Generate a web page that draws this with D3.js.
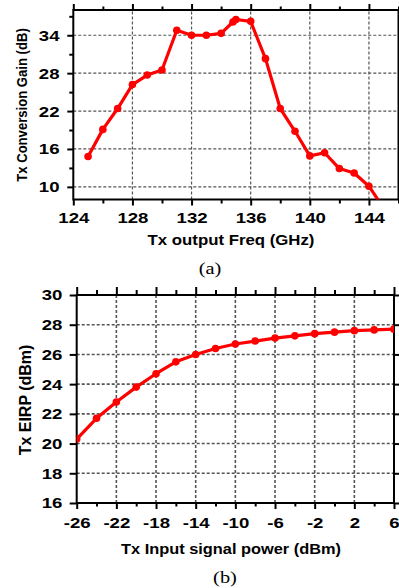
<!DOCTYPE html>
<html>
<head>
<meta charset="utf-8">
<script src="https://cdn.jsdelivr.net/npm/d3@7"></script>
<style>
  html, body { margin: 0; padding: 0; background: #fff; }
  svg { display: block; }
  .tick text { font-family: "Liberation Sans", Arial, sans-serif; font-weight: bold; }
</style>
</head>
<body>
<svg id="chart" width="399" height="588"></svg>
<script>
// ---------- Data (a) ----------
const freqA = [125, 126, 127, 128, 129, 130, 131, 132, 133, 134, 134.8, 135, 136, 137, 138, 139, 140, 141, 142, 143, 144, 145];
const gainA = [14.8, 19.1, 22.4, 26.2, 27.7, 28.5, 34.8, 34.0, 34.0, 34.3, 36.1, 36.5, 36.2, 30.3, 22.4, 18.8, 14.9, 15.4, 12.9, 12.2, 10.1, 6.6];
const xTicksA = [124, 128, 132, 136, 140, 144];
const xMinorA = [126, 130, 134, 138, 142, 146];
const yTicksA = [10, 16, 22, 28, 34];
const yMinorA = [13, 19, 25, 31, 37];

// ---------- Data (b) ----------
const powerB = [-26, -24, -22, -20, -18, -16, -14, -12, -10, -8, -6, -4, -2, 0, 2, 4, 6];
const eirpB = [20.3, 21.7, 22.8, 23.8, 24.7, 25.5, 26.0, 26.4, 26.7, 26.9, 27.1, 27.25, 27.4, 27.5, 27.6, 27.65, 27.7];
const xTicksB = [-26, -22, -18, -14, -10, -6, -2, 2, 6];
const xMinorB = [-24, -20, -16, -12, -8, -4, 0, 4];
const yTicksB = [16, 18, 20, 22, 24, 26, 28, 30];

const svg = d3.select("#chart");
const RED = "#ff0000";
const GRID = "#555";
const STRETCH = 1.2;
const fmt = d => String(d); // plain hyphen-minus like the reference

function panel(opts) {
  const { x, y, xTicks, xMinor, yTicks, yMinor, xs, ys, id,
          majLenX, minLenX, majLenXTop, minLenXTop, majLenY, minLenY, gridW, fontSize } = opts;
  const g = svg.append("g");
  const [x0, x1] = x.range();
  const [y0, y1] = y.range();

  svg.append("clipPath").attr("id", id).append("rect")
    .attr("x", x0).attr("y", y1).attr("width", x1 - x0).attr("height", y0 - y1);

  // grid
  g.append("g").selectAll("line").data(xTicks.filter(v => x(v) > x0 + 1 && x(v) < x1 - 1)).join("line")
    .attr("x1", d => x(d)).attr("x2", d => x(d)).attr("y1", y0).attr("y2", y1)
    .attr("stroke", GRID).attr("stroke-width", gridW).attr("stroke-dasharray", "3,2");
  g.append("g").selectAll("line").data(yTicks.filter(v => y(v) < y0 - 1 && y(v) > y1 + 1)).join("line")
    .attr("x1", x0).attr("x2", x1).attr("y1", d => y(d)).attr("y2", d => y(d))
    .attr("stroke", GRID).attr("stroke-width", gridW).attr("stroke-dasharray", "3,2");

  const styleTicks = sel => { sel.select(".domain").remove(); sel.selectAll(".tick line").attr("stroke", "#000").attr("stroke-width", 2); };

  // bottom
  const bottom = g.append("g").attr("transform", `translate(0,${y0})`)
    .call(d3.axisBottom(x).tickValues(xTicks).tickSize(majLenX).tickPadding(opts.xPad).tickFormat(fmt));
  styleTicks(bottom);
  bottom.selectAll(".tick text").attr("font-size", fontSize).attr("fill", "#000")
    .attr("transform", `scale(${STRETCH},1)`);
  styleTicks(g.append("g").attr("transform", `translate(0,${y0})`)
    .call(d3.axisBottom(x).tickValues(xMinor.filter(v => v <= x.domain()[1])).tickSize(minLenX).tickFormat("")));

  // top
  styleTicks(g.append("g").attr("transform", `translate(0,${y1})`)
    .call(d3.axisTop(x).tickValues(xTicks).tickSize(majLenXTop).tickFormat("")));
  styleTicks(g.append("g").attr("transform", `translate(0,${y1})`)
    .call(d3.axisTop(x).tickValues(xMinor.filter(v => v <= x.domain()[1])).tickSize(minLenXTop).tickFormat("")));

  // left
  const left = g.append("g").attr("transform", `translate(${x0},0)`)
    .call(d3.axisLeft(y).tickValues(yTicks).tickSize(majLenY).tickPadding(opts.yPad).tickFormat(fmt));
  styleTicks(left);
  left.selectAll(".tick text").attr("font-size", fontSize).attr("fill", "#000")
    .attr("transform", `scale(${STRETCH},1)`);
  if (yMinor) {
    styleTicks(g.append("g").attr("transform", `translate(${x0},0)`)
      .call(d3.axisLeft(y).tickValues(yMinor).tickSize(minLenY).tickFormat("")));
  }
  // right
  styleTicks(g.append("g").attr("transform", `translate(${x1},0)`)
    .call(d3.axisRight(y).tickValues(yTicks).tickSize(majLenY).tickFormat("")));

  // frame
  g.append("rect").attr("x", x0).attr("y", y1).attr("width", x1 - x0).attr("height", y0 - y1)
    .attr("fill", "none").attr("stroke", "#000").attr("stroke-width", 2);

  // data
  const pts = xs.map((v, i) => [v, ys[i]]);
  const dg = g.append("g").attr("clip-path", `url(#${id})`);
  dg.append("path").datum(pts)
    .attr("d", d3.line().x(d => x(d[0])).y(d => y(d[1])))
    .attr("fill", "none").attr("stroke", RED).attr("stroke-width", 3.2).attr("stroke-linejoin", "round");
  dg.selectAll("circle").data(pts).join("circle")
    .attr("cx", d => x(d[0])).attr("cy", d => y(d[1])).attr("r", 3.8).attr("fill", RED);
  return g;
}

// Panel (a)
const xA = d3.scaleLinear().domain([124, 146]).range([73.3, 398.5]);
const yA = d3.scaleLinear().domain([8, 38]).range([199.5, 10]);
panel({ x: xA, y: yA, xTicks: xTicksA, xMinor: xMinorA, yTicks: yTicksA, yMinor: yMinorA,
  xs: freqA, ys: gainA, id: "clipA", majLenX: 6, minLenX: 4, majLenXTop: 6, minLenXTop: 3.5,
  majLenY: 6, minLenY: 4, gridW: 1.2, fontSize: 15.5, yPad: 5.5, xPad: 6 });

// Panel (b)
const xB = d3.scaleLinear().domain([-26, 6]).range([76.7, 394]);
const yB = d3.scaleLinear().domain([16, 30]).range([503, 295]);
panel({ x: xB, y: yB, xTicks: xTicksB, xMinor: xMinorB, yTicks: yTicksB, yMinor: null,
  xs: powerB, ys: eirpB, id: "clipB", majLenX: 6, minLenX: 3.5, majLenXTop: 8, minLenXTop: 5,
  majLenY: 7, minLenY: 4, gridW: 1.6, fontSize: 15.5, yPad: 5, xPad: 8 });

// Axis titles
const lab = svg.append("g").attr("font-family", '"Liberation Sans", Arial, sans-serif').attr("font-weight", "bold").attr("fill", "#000");
lab.append("text").attr("transform", "translate(27,105) scale(1.15,1) rotate(-90)").attr("text-anchor", "middle")
  .attr("font-size", 13.1).text("Tx Conversion Gain (dB)");
lab.append("text").attr("transform", "translate(231,245) scale(1.2,1)").attr("text-anchor", "middle")
  .attr("font-size", 14).text("Tx output Freq (GHz)");
lab.append("text").attr("transform", "translate(30.5,400) scale(1.05,1) rotate(-90)").attr("text-anchor", "middle")
  .attr("font-size", 16).text("Tx EIRP (dBm)");
lab.append("text").attr("transform", "translate(231,554) scale(1.17,1)").attr("text-anchor", "middle")
  .attr("font-size", 14).text("Tx Input signal power (dBm)");

// Captions
const cap = svg.append("g").attr("font-family", '"Liberation Serif", "Times New Roman", serif').attr("fill", "#000");
cap.append("text").attr("transform", "translate(210,274) scale(1.2,1)").attr("text-anchor", "middle").attr("font-size", 17).text("(a)");
cap.append("text").attr("transform", "translate(225,583) scale(1.2,1)").attr("text-anchor", "middle").attr("font-size", 17).text("(b)");
</script>
</body>
</html>
